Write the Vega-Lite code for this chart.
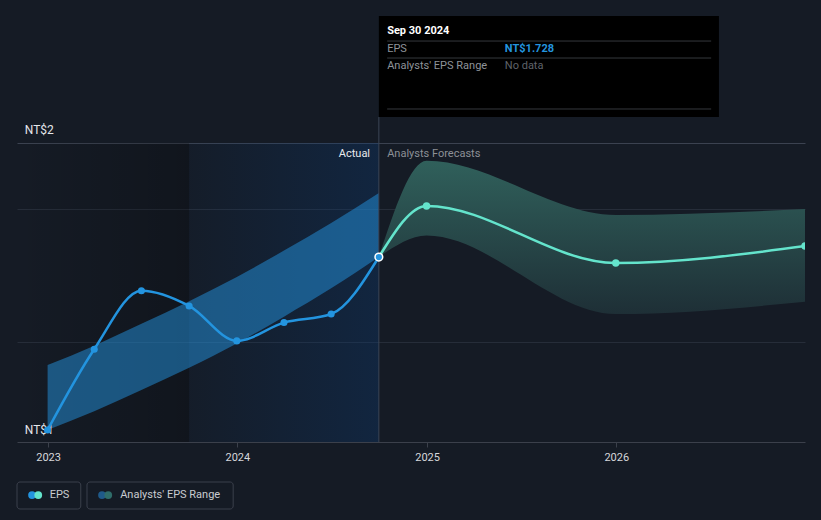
{
  "$schema": "https://vega.github.io/schema/vega-lite/v6.json",
  "width": 788,
  "height": 442,
  "autosize": {"type": "none"},
  "padding": {"left": 17, "top": 0, "right": 16, "bottom": 78},
  "background": "#151b25",
  "config": {"view": {"stroke": null}, "font": "Roboto", "text": {"font": "Roboto"}},
  "data": {"values": [{"note": "annotation"}]},
  "datasets": {
    "actual": [
      {"date": "2022-12-31", "eps": 1.000},
      {"date": "2023-03-31", "eps": 1.340},
      {"date": "2023-06-30", "eps": 1.586},
      {"date": "2023-09-30", "eps": 1.522},
      {"date": "2023-12-31", "eps": 1.375},
      {"date": "2024-03-31", "eps": 1.452},
      {"date": "2024-06-30", "eps": 1.488},
      {"date": "2024-09-30", "eps": 1.728}
    ],
    "pastband": [
      {"date": "2022-12-31", "low": 1.000, "high": 1.273},
      {"date": "2023-03-31", "low": 1.079, "high": 1.355},
      {"date": "2023-06-30", "low": 1.168, "high": 1.447},
      {"date": "2023-09-30", "low": 1.262, "high": 1.542},
      {"date": "2023-12-31", "low": 1.364, "high": 1.644},
      {"date": "2024-03-31", "low": 1.477, "high": 1.755},
      {"date": "2024-06-30", "low": 1.596, "high": 1.871},
      {"date": "2024-09-30", "low": 1.728, "high": 1.997}
    ],
    "forecast": [
      {"date": "2024-09-30", "eps": 1.728, "low": 1.728, "high": 1.728},
      {"date": "2024-12-31", "eps": 1.943, "low": 1.818, "high": 2.133},
      {"date": "2025-12-31", "eps": 1.703, "low": 1.488, "high": 1.905},
      {"date": "2026-12-31", "eps": 1.774, "low": 1.540, "high": 1.930}
    ]
  },
  "layer": [
    {
      "data": {"name": "actual"},
      "mark": {"type": "line", "opacity": 0, "strokeWidth": 0},
      "encoding": {
        "x": {"field": "date", "type": "temporal",
          "scale": {"type": "utc", "domain": [{"year": 2022, "month": 11, "date": 2, "utc": true}, {"year": 2026, "month": 12, "date": 31, "utc": true}]},
          "axis": {"values": [{"year": 2023, "month": 1, "date": 1, "utc": true}, {"year": 2024, "month": 1, "date": 1, "utc": true}, {"year": 2025, "month": 1, "date": 1, "utc": true}, {"year": 2026, "month": 1, "date": 1, "utc": true}],
            "format": "%Y", "title": null, "grid": false, "domainColor": "#3b404b", "tickColor": "#3b404b", "tickSize": 5, "labelColor": "#d5d7db", "labelFontSize": 11, "labelPadding": 4, "labelFont": "Roboto"}},
        "y": {"field": "eps", "type": "quantitative",
          "scale": {"domain": [0.9494, 2.8097], "nice": false, "zero": false},
          "axis": {"values": [2.208, 1.93, 1.37], "labels": false, "ticks": false, "domain": false, "title": null, "grid": true,
            "gridColor": {"condition": {"test": "datum.value > 2.1", "value": "#3b4250"}, "value": "#262d39"}}}
      }
    },
    {
      "mark": {"type": "rect", "color": {"gradient": "linear", "x1": 0, "y1": 0, "x2": 1, "y2": 0, "stops": [{"offset": 0, "color": "rgba(0,0,0,0)"}, {"offset": 1, "color": "rgba(0,0,0,0.22)"}]}},
      "encoding": {
        "x": {"datum": {"year": 2022, "month": 11, "date": 2, "utc": true}, "type": "temporal", "scale": {"type": "utc", "domain": [{"year": 2022, "month": 11, "date": 2, "utc": true}, {"year": 2026, "month": 12, "date": 31, "utc": true}]}, "axis": {"title": null}},
        "x2": {"datum": {"year": 2023, "month": 9, "date": 30, "utc": true}},
        "y": {"datum": 2.208, "type": "quantitative", "scale": {"domain": [0.9494, 2.8097], "nice": false, "zero": false}, "axis": {"title": null}},
        "y2": {"datum": 0.9494}
      }
    },
    {
      "mark": {"type": "rect", "color": {"gradient": "linear", "x1": 0, "y1": 0, "x2": 1, "y2": 0, "stops": [{"offset": 0, "color": "rgba(10,60,120,0.05)"}, {"offset": 1, "color": "rgba(10,60,120,0.32)"}]}},
      "encoding": {
        "x": {"datum": {"year": 2023, "month": 9, "date": 30, "utc": true}, "type": "temporal", "scale": {"type": "utc", "domain": [{"year": 2022, "month": 11, "date": 2, "utc": true}, {"year": 2026, "month": 12, "date": 31, "utc": true}]}, "axis": {"title": null}},
        "x2": {"datum": {"year": 2024, "month": 9, "date": 30, "utc": true}},
        "y": {"datum": 2.208, "type": "quantitative", "scale": {"domain": [0.9494, 2.8097], "nice": false, "zero": false}, "axis": {"title": null}},
        "y2": {"datum": 0.9494}
      }
    },
    {
      "data": {"name": "pastband"},
      "mark": {"type": "area", "interpolate": "monotone", "color": "#2394df", "opacity": 0.5},
      "encoding": {
        "x": {"field": "date", "type": "temporal", "scale": {"type": "utc", "domain": [{"year": 2022, "month": 11, "date": 2, "utc": true}, {"year": 2026, "month": 12, "date": 31, "utc": true}]}, "axis": {"title": null}},
        "y": {"field": "high", "type": "quantitative", "scale": {"domain": [0.9494, 2.8097], "nice": false, "zero": false}, "axis": {"title": null}},
        "y2": {"field": "low"}
      }
    },
    {
      "data": {"name": "forecast"},
      "mark": {"type": "area", "interpolate": "monotone", "clip": true, "color": {"gradient": "linear", "x1": 0, "y1": 0, "x2": 0, "y2": 1, "stops": [{"offset": 0, "color": "#30605b"}, {"offset": 1, "color": "#1e2f36"}]}},
      "encoding": {
        "x": {"field": "date", "type": "temporal", "scale": {"type": "utc", "domain": [{"year": 2022, "month": 11, "date": 2, "utc": true}, {"year": 2026, "month": 12, "date": 31, "utc": true}]}, "axis": {"title": null}},
        "y": {"field": "high", "type": "quantitative", "scale": {"domain": [0.9494, 2.8097], "nice": false, "zero": false}, "axis": {"title": null}},
        "y2": {"field": "low"}
      }
    },
    {
      "mark": {"type": "rule", "color": "#3a4556", "strokeWidth": 1},
      "encoding": {
        "x": {"datum": {"year": 2024, "month": 9, "date": 30, "utc": true}, "type": "temporal", "scale": {"type": "utc", "domain": [{"year": 2022, "month": 11, "date": 2, "utc": true}, {"year": 2026, "month": 12, "date": 31, "utc": true}]}, "axis": {"title": null}},
        "y": {"datum": 2.317, "type": "quantitative", "scale": {"domain": [0.9494, 2.8097], "nice": false, "zero": false}, "axis": {"title": null}},
        "y2": {"datum": 0.9494}
      }
    },
    {
      "mark": {"type": "text", "align": "left", "baseline": "middle", "fontSize": 12, "color": "#e4e6ea"},
      "encoding": {
        "x": {"datum": {"year": 2022, "month": 11, "date": 17, "utc": true}, "type": "temporal", "scale": {"type": "utc", "domain": [{"year": 2022, "month": 11, "date": 2, "utc": true}, {"year": 2026, "month": 12, "date": 31, "utc": true}]}, "axis": {"title": null}},
        "y": {"datum": 2.2625, "type": "quantitative", "scale": {"domain": [0.9494, 2.8097], "nice": false, "zero": false}, "axis": {"title": null}},
        "text": {"value": "NT$2"}
      }
    },
    {
      "mark": {"type": "text", "align": "left", "baseline": "middle", "fontSize": 12, "color": "#e4e6ea"},
      "encoding": {
        "x": {"datum": {"year": 2022, "month": 11, "date": 17, "utc": true}, "type": "temporal", "scale": {"type": "utc", "domain": [{"year": 2022, "month": 11, "date": 2, "utc": true}, {"year": 2026, "month": 12, "date": 31, "utc": true}]}, "axis": {"title": null}},
        "y": {"datum": 1.0, "type": "quantitative", "scale": {"domain": [0.9494, 2.8097], "nice": false, "zero": false}, "axis": {"title": null}},
        "text": {"value": "NT$1"}
      }
    },
    {
      "mark": {"type": "text", "align": "right", "baseline": "middle", "fontSize": 11, "color": "#e8eaed"},
      "encoding": {
        "x": {"datum": {"year": 2024, "month": 9, "date": 13, "utc": true}, "type": "temporal", "scale": {"type": "utc", "domain": [{"year": 2022, "month": 11, "date": 2, "utc": true}, {"year": 2026, "month": 12, "date": 31, "utc": true}]}, "axis": {"title": null}},
        "y": {"datum": 2.1615, "type": "quantitative", "scale": {"domain": [0.9494, 2.8097], "nice": false, "zero": false}, "axis": {"title": null}},
        "text": {"value": "Actual"}
      }
    },
    {
      "mark": {"type": "text", "align": "left", "baseline": "middle", "fontSize": 11, "color": "#8c9096"},
      "encoding": {
        "x": {"datum": {"year": 2024, "month": 10, "date": 16, "utc": true}, "type": "temporal", "scale": {"type": "utc", "domain": [{"year": 2022, "month": 11, "date": 2, "utc": true}, {"year": 2026, "month": 12, "date": 31, "utc": true}]}, "axis": {"title": null}},
        "y": {"datum": 2.1615, "type": "quantitative", "scale": {"domain": [0.9494, 2.8097], "nice": false, "zero": false}, "axis": {"title": null}},
        "text": {"value": "Analysts Forecasts"}
      }
    },
    {
      "data": {"name": "actual"},
      "mark": {"type": "line", "interpolate": "monotone", "color": "#2394df", "strokeWidth": 2.5},
      "encoding": {
        "x": {"field": "date", "type": "temporal", "scale": {"type": "utc", "domain": [{"year": 2022, "month": 11, "date": 2, "utc": true}, {"year": 2026, "month": 12, "date": 31, "utc": true}]}, "axis": {"title": null}},
        "y": {"field": "eps", "type": "quantitative", "scale": {"domain": [0.9494, 2.8097], "nice": false, "zero": false}, "axis": {"title": null}}
      }
    },
    {
      "data": {"name": "actual"},
      "mark": {"type": "circle", "color": "#2394df", "size": 50, "opacity": 1},
      "encoding": {
        "x": {"field": "date", "type": "temporal", "scale": {"type": "utc", "domain": [{"year": 2022, "month": 11, "date": 2, "utc": true}, {"year": 2026, "month": 12, "date": 31, "utc": true}]}, "axis": {"title": null}},
        "y": {"field": "eps", "type": "quantitative", "scale": {"domain": [0.9494, 2.8097], "nice": false, "zero": false}, "axis": {"title": null}}
      }
    },
    {
      "data": {"name": "forecast"},
      "mark": {"type": "line", "interpolate": "monotone", "color": "#64e4cc", "strokeWidth": 2.5, "clip": true},
      "encoding": {
        "x": {"field": "date", "type": "temporal", "scale": {"type": "utc", "domain": [{"year": 2022, "month": 11, "date": 2, "utc": true}, {"year": 2026, "month": 12, "date": 31, "utc": true}]}, "axis": {"title": null}},
        "y": {"field": "eps", "type": "quantitative", "scale": {"domain": [0.9494, 2.8097], "nice": false, "zero": false}, "axis": {"title": null}}
      }
    },
    {
      "data": {"name": "forecast"},
      "mark": {"type": "circle", "color": "#64e4cc", "size": 55, "opacity": 1, "clip": true},
      "encoding": {
        "x": {"field": "date", "type": "temporal", "scale": {"type": "utc", "domain": [{"year": 2022, "month": 11, "date": 2, "utc": true}, {"year": 2026, "month": 12, "date": 31, "utc": true}]}, "axis": {"title": null}},
        "y": {"field": "eps", "type": "quantitative", "scale": {"domain": [0.9494, 2.8097], "nice": false, "zero": false}, "axis": {"title": null}}
      }
    },
    {
      "mark": {"type": "point", "shape": "circle", "fill": "#2394df", "fillOpacity": 1, "stroke": "#ffffff", "strokeWidth": 1.5, "size": 60, "opacity": 1},
      "encoding": {
        "x": {"datum": {"year": 2024, "month": 9, "date": 30, "utc": true}, "type": "temporal", "scale": {"type": "utc", "domain": [{"year": 2022, "month": 11, "date": 2, "utc": true}, {"year": 2026, "month": 12, "date": 31, "utc": true}]}, "axis": {"title": null}},
        "y": {"datum": 1.728, "type": "quantitative", "scale": {"domain": [0.9494, 2.8097], "nice": false, "zero": false}, "axis": {"title": null}}
      }
    },
    {
      "mark": {"type": "rect", "color": "#000000"},
      "encoding": {
        "x": {"datum": {"year": 2024, "month": 9, "date": 30, "utc": true}, "type": "temporal", "scale": {"type": "utc", "domain": [{"year": 2022, "month": 11, "date": 2, "utc": true}, {"year": 2026, "month": 12, "date": 31, "utc": true}]}, "axis": {"title": null}},
        "x2": {"datum": {"year": 2026, "month": 7, "date": 18, "utc": true}},
        "y": {"datum": 2.742, "type": "quantitative", "scale": {"domain": [0.9494, 2.8097], "nice": false, "zero": false}, "axis": {"title": null}},
        "y2": {"datum": 2.317}
      }
    },
    {
      "mark": {"type": "rule", "color": "#35383d", "strokeWidth": 1},
      "encoding": {
        "x": {"datum": {"year": 2024, "month": 10, "date": 16, "utc": true}, "type": "temporal", "scale": {"type": "utc", "domain": [{"year": 2022, "month": 11, "date": 2, "utc": true}, {"year": 2026, "month": 12, "date": 31, "utc": true}]}, "axis": {"title": null}},
        "x2": {"datum": {"year": 2026, "month": 7, "date": 3, "utc": true}},
        "y": {"datum": 2.637, "type": "quantitative", "scale": {"domain": [0.9494, 2.8097], "nice": false, "zero": false}, "axis": {"title": null}}
      }
    },
    {
      "mark": {"type": "rule", "color": "#35383d", "strokeWidth": 1},
      "encoding": {
        "x": {"datum": {"year": 2024, "month": 10, "date": 16, "utc": true}, "type": "temporal", "scale": {"type": "utc", "domain": [{"year": 2022, "month": 11, "date": 2, "utc": true}, {"year": 2026, "month": 12, "date": 31, "utc": true}]}, "axis": {"title": null}},
        "x2": {"datum": {"year": 2026, "month": 7, "date": 3, "utc": true}},
        "y": {"datum": 2.5655, "type": "quantitative", "scale": {"domain": [0.9494, 2.8097], "nice": false, "zero": false}, "axis": {"title": null}}
      }
    },
    {
      "mark": {"type": "rule", "color": "#35383d", "strokeWidth": 1},
      "encoding": {
        "x": {"datum": {"year": 2024, "month": 10, "date": 16, "utc": true}, "type": "temporal", "scale": {"type": "utc", "domain": [{"year": 2022, "month": 11, "date": 2, "utc": true}, {"year": 2026, "month": 12, "date": 31, "utc": true}]}, "axis": {"title": null}},
        "x2": {"datum": {"year": 2026, "month": 7, "date": 3, "utc": true}},
        "y": {"datum": 2.351, "type": "quantitative", "scale": {"domain": [0.9494, 2.8097], "nice": false, "zero": false}, "axis": {"title": null}}
      }
    },
    {
      "mark": {"type": "text", "align": "left", "baseline": "middle", "fontSize": 11, "fontWeight": "bold", "color": "#ffffff"},
      "encoding": {
        "x": {"datum": {"year": 2024, "month": 10, "date": 16, "utc": true}, "type": "temporal", "scale": {"type": "utc", "domain": [{"year": 2022, "month": 11, "date": 2, "utc": true}, {"year": 2026, "month": 12, "date": 31, "utc": true}]}, "axis": {"title": null}},
        "y": {"datum": 2.679, "type": "quantitative", "scale": {"domain": [0.9494, 2.8097], "nice": false, "zero": false}, "axis": {"title": null}},
        "text": {"value": "Sep 30 2024"}
      }
    },
    {
      "mark": {"type": "text", "align": "left", "baseline": "middle", "fontSize": 11, "color": "#8e9399"},
      "encoding": {
        "x": {"datum": {"year": 2024, "month": 10, "date": 16, "utc": true}, "type": "temporal", "scale": {"type": "utc", "domain": [{"year": 2022, "month": 11, "date": 2, "utc": true}, {"year": 2026, "month": 12, "date": 31, "utc": true}]}, "axis": {"title": null}},
        "y": {"datum": 2.603, "type": "quantitative", "scale": {"domain": [0.9494, 2.8097], "nice": false, "zero": false}, "axis": {"title": null}},
        "text": {"value": "EPS"}
      }
    },
    {
      "mark": {"type": "text", "align": "left", "baseline": "middle", "fontSize": 11, "fontWeight": "bold", "color": "#2394df"},
      "encoding": {
        "x": {"datum": {"year": 2025, "month": 5, "date": 31, "utc": true}, "type": "temporal", "scale": {"type": "utc", "domain": [{"year": 2022, "month": 11, "date": 2, "utc": true}, {"year": 2026, "month": 12, "date": 31, "utc": true}]}, "axis": {"title": null}},
        "y": {"datum": 2.603, "type": "quantitative", "scale": {"domain": [0.9494, 2.8097], "nice": false, "zero": false}, "axis": {"title": null}},
        "text": {"value": "NT$1.728"}
      }
    },
    {
      "mark": {"type": "text", "align": "left", "baseline": "middle", "fontSize": 11, "color": "#8e9399"},
      "encoding": {
        "x": {"datum": {"year": 2024, "month": 10, "date": 16, "utc": true}, "type": "temporal", "scale": {"type": "utc", "domain": [{"year": 2022, "month": 11, "date": 2, "utc": true}, {"year": 2026, "month": 12, "date": 31, "utc": true}]}, "axis": {"title": null}},
        "y": {"datum": 2.532, "type": "quantitative", "scale": {"domain": [0.9494, 2.8097], "nice": false, "zero": false}, "axis": {"title": null}},
        "text": {"value": "Analysts' EPS Range"}
      }
    },
    {
      "mark": {"type": "text", "align": "left", "baseline": "middle", "fontSize": 11, "color": "#5f636a"},
      "encoding": {
        "x": {"datum": {"year": 2025, "month": 5, "date": 31, "utc": true}, "type": "temporal", "scale": {"type": "utc", "domain": [{"year": 2022, "month": 11, "date": 2, "utc": true}, {"year": 2026, "month": 12, "date": 31, "utc": true}]}, "axis": {"title": null}},
        "y": {"datum": 2.532, "type": "quantitative", "scale": {"domain": [0.9494, 2.8097], "nice": false, "zero": false}, "axis": {"title": null}},
        "text": {"value": "No data"}
      }
    },
    {
      "mark": {"type": "rect", "fill": "#151b25", "stroke": "#3b404c", "strokeWidth": 1, "cornerRadius": 3},
      "encoding": {
        "x": {"datum": {"year": 2022, "month": 11, "date": 2, "utc": true}, "type": "temporal", "scale": {"type": "utc", "domain": [{"year": 2022, "month": 11, "date": 2, "utc": true}, {"year": 2026, "month": 12, "date": 31, "utc": true}]}, "axis": {"title": null}},
        "x2": {"datum": {"year": 2023, "month": 3, "date": 5, "utc": true}},
        "y": {"datum": 0.781, "type": "quantitative", "scale": {"domain": [0.9494, 2.8097], "nice": false, "zero": false}, "axis": {"title": null}},
        "y2": {"datum": 0.6674}
      }
    },
    {
      "mark": {"type": "rect", "fill": "#151b25", "stroke": "#3b404c", "strokeWidth": 1, "cornerRadius": 3},
      "encoding": {
        "x": {"datum": {"year": 2023, "month": 3, "date": 17, "utc": true}, "type": "temporal", "scale": {"type": "utc", "domain": [{"year": 2022, "month": 11, "date": 2, "utc": true}, {"year": 2026, "month": 12, "date": 31, "utc": true}]}, "axis": {"title": null}},
        "x2": {"datum": {"year": 2023, "month": 12, "date": 24, "utc": true}},
        "y": {"datum": 0.781, "type": "quantitative", "scale": {"domain": [0.9494, 2.8097], "nice": false, "zero": false}, "axis": {"title": null}},
        "y2": {"datum": 0.6674}
      }
    },
    {
      "mark": {"type": "circle", "color": "#2394df", "size": 60, "opacity": 1},
      "encoding": {
        "x": {"datum": {"year": 2022, "month": 12, "date": 1, "utc": true}, "type": "temporal", "scale": {"type": "utc", "domain": [{"year": 2022, "month": 11, "date": 2, "utc": true}, {"year": 2026, "month": 12, "date": 31, "utc": true}]}, "axis": {"title": null}},
        "y": {"datum": 0.7263, "type": "quantitative", "scale": {"domain": [0.9494, 2.8097], "nice": false, "zero": false}, "axis": {"title": null}}
      }
    },
    {
      "mark": {"type": "circle", "color": "#64e4cc", "size": 60, "opacity": 1},
      "encoding": {
        "x": {"datum": {"year": 2022, "month": 12, "date": 13, "utc": true}, "type": "temporal", "scale": {"type": "utc", "domain": [{"year": 2022, "month": 11, "date": 2, "utc": true}, {"year": 2026, "month": 12, "date": 31, "utc": true}]}, "axis": {"title": null}},
        "y": {"datum": 0.7263, "type": "quantitative", "scale": {"domain": [0.9494, 2.8097], "nice": false, "zero": false}, "axis": {"title": null}}
      }
    },
    {
      "mark": {"type": "circle", "color": "#1f5a8a", "size": 60, "opacity": 1},
      "encoding": {
        "x": {"datum": {"year": 2023, "month": 4, "date": 15, "utc": true}, "type": "temporal", "scale": {"type": "utc", "domain": [{"year": 2022, "month": 11, "date": 2, "utc": true}, {"year": 2026, "month": 12, "date": 31, "utc": true}]}, "axis": {"title": null}},
        "y": {"datum": 0.7263, "type": "quantitative", "scale": {"domain": [0.9494, 2.8097], "nice": false, "zero": false}, "axis": {"title": null}}
      }
    },
    {
      "mark": {"type": "circle", "color": "#2f6d6a", "size": 60, "opacity": 1},
      "encoding": {
        "x": {"datum": {"year": 2023, "month": 4, "date": 27, "utc": true}, "type": "temporal", "scale": {"type": "utc", "domain": [{"year": 2022, "month": 11, "date": 2, "utc": true}, {"year": 2026, "month": 12, "date": 31, "utc": true}]}, "axis": {"title": null}},
        "y": {"datum": 0.7263, "type": "quantitative", "scale": {"domain": [0.9494, 2.8097], "nice": false, "zero": false}, "axis": {"title": null}}
      }
    },
    {
      "mark": {"type": "text", "align": "left", "baseline": "middle", "fontSize": 11, "color": "#c9ccd1"},
      "encoding": {
        "x": {"datum": {"year": 2023, "month": 1, "date": 4, "utc": true}, "type": "temporal", "scale": {"type": "utc", "domain": [{"year": 2022, "month": 11, "date": 2, "utc": true}, {"year": 2026, "month": 12, "date": 31, "utc": true}]}, "axis": {"title": null}},
        "y": {"datum": 0.7263, "type": "quantitative", "scale": {"domain": [0.9494, 2.8097], "nice": false, "zero": false}, "axis": {"title": null}},
        "text": {"value": "EPS"}
      }
    },
    {
      "mark": {"type": "text", "align": "left", "baseline": "middle", "fontSize": 11, "color": "#c9ccd1"},
      "encoding": {
        "x": {"datum": {"year": 2023, "month": 5, "date": 20, "utc": true}, "type": "temporal", "scale": {"type": "utc", "domain": [{"year": 2022, "month": 11, "date": 2, "utc": true}, {"year": 2026, "month": 12, "date": 31, "utc": true}]}, "axis": {"title": null}},
        "y": {"datum": 0.7263, "type": "quantitative", "scale": {"domain": [0.9494, 2.8097], "nice": false, "zero": false}, "axis": {"title": null}},
        "text": {"value": "Analysts' EPS Range"}
      }
    }
  ]
}
